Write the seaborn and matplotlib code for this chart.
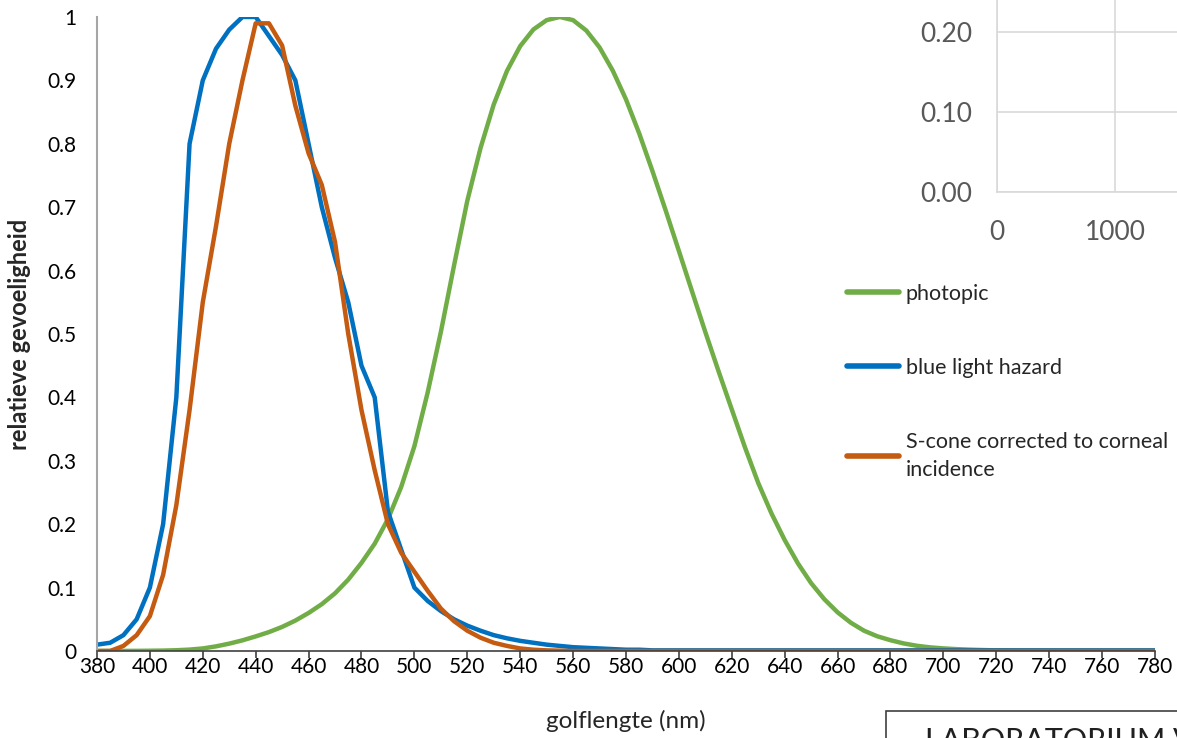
import matplotlib
matplotlib.use("Agg")
import matplotlib.pyplot as plt
import matplotlib.ticker as mticker
import pandas as pd
import seaborn as sns

# --------------------- DATA ---------------------
wavelength = [380, 385, 390, 395, 400, 405, 410, 415, 420, 425, 430, 435, 440, 445, 450, 455,
              460, 465, 470, 475, 480, 485, 490, 495, 500, 505, 510, 515, 520, 525, 530, 535,
              540, 545, 550, 555, 560, 565, 570, 575, 580, 585, 590, 595, 600, 605, 610, 615,
              620, 625, 630, 635, 640, 645, 650, 655, 660, 665, 670, 675, 680, 685, 690, 695,
              700, 705, 710, 715, 720, 725, 730, 735, 740, 745, 750, 755, 760, 765, 770, 775, 780]

photopic = [0.00004, 0.00006, 0.00012, 0.00022, 0.0004, 0.00064, 0.0012, 0.0022, 0.004, 0.0073,
            0.0116, 0.0168, 0.023, 0.0298, 0.038, 0.048, 0.06, 0.0739, 0.091, 0.1126, 0.139,
            0.1693, 0.208, 0.2586, 0.323, 0.4073, 0.503, 0.6082, 0.71, 0.7932, 0.862, 0.9149,
            0.954, 0.9803, 0.995, 1.0, 0.995, 0.9786, 0.952, 0.9154, 0.87, 0.8163, 0.757, 0.6949,
            0.631, 0.5668, 0.503, 0.4412, 0.381, 0.321, 0.265, 0.217, 0.175, 0.1382, 0.107,
            0.0816, 0.061, 0.0446, 0.032, 0.0232, 0.017, 0.0119, 0.0082, 0.0057, 0.0041, 0.0029,
            0.0021, 0.0015, 0.001, 0.0007, 0.0005, 0.0004, 0.0002, 0.0002, 0.0001, 0.0001,
            0.00006, 0.00004, 0.00003, 0.00002, 0.00002]

blue_hazard = [0.01, 0.013, 0.025, 0.05, 0.1, 0.2, 0.4, 0.8, 0.9, 0.95, 0.98, 1.0, 1.0, 0.97,
               0.94, 0.9, 0.8, 0.7, 0.62, 0.55, 0.45, 0.4, 0.22, 0.16, 0.1, 0.079, 0.063, 0.05,
               0.04, 0.032, 0.025, 0.02, 0.016, 0.013, 0.01, 0.008, 0.006, 0.005, 0.004, 0.003,
               0.002, 0.002, 0.001, 0.001, 0.001, 0.001, 0.001, 0.001, 0.001, 0.001, 0.001, 0.001,
               0.001, 0.001, 0.001, 0.001, 0.001, 0.001, 0.001, 0.001, 0.001, 0.001, 0.001, 0.001,
               0.001, 0.001, 0.001, 0.001, 0.001, 0.001, 0.001, 0.001, 0.001, 0.001, 0.001, 0.001,
               0.001, 0.001, 0.001, 0.001, 0.001]

s_cone = [0.0, 0.0, 0.008, 0.025, 0.055, 0.12, 0.23, 0.38, 0.55, 0.67, 0.8, 0.9, 0.99, 0.99,
          0.955, 0.86, 0.785, 0.735, 0.645, 0.5, 0.38, 0.285, 0.2, 0.155, 0.125, 0.095, 0.067,
          0.047, 0.032, 0.021, 0.013, 0.008, 0.004, 0.002, 0.001, 0.0005, 0.0, 0.0, 0.0, 0.0,
          0.0, 0.0, 0.0, 0.0, 0.0, 0.0, 0.0, 0.0, 0.0, 0.0, 0.0, 0.0, 0.0, 0.0, 0.0, 0.0, 0.0,
          0.0, 0.0, 0.0, 0.0, 0.0, 0.0, 0.0, 0.0, 0.0, 0.0, 0.0, 0.0, 0.0, 0.0, 0.0, 0.0, 0.0,
          0.0, 0.0, 0.0, 0.0, 0.0, 0.0, 0.0]

series_names = ['photopic', 'blue light hazard', 'S-cone corrected to corneal\nincidence']
series_colors = ['#70AD47', '#0070C0', '#C55A11']

x_ticks = [380, 400, 420, 440, 460, 480, 500, 520, 540, 560, 580, 600, 620, 640, 660, 680,
           700, 720, 740, 760, 780]
y_ticks = [0, 0.1, 0.2, 0.3, 0.4, 0.5, 0.6, 0.7, 0.8, 0.9, 1.0]

inset_x_ticks = [0, 1000, 2000]
inset_y_ticks = [0.0, 0.1, 0.2, 0.3]

# --------------------- STYLE ---------------------
sns.set_theme(style='white')
plt.rcParams['font.family'] = ['Lato', 'DejaVu Sans']

df = pd.DataFrame({
    'golflengte': wavelength * 3,
    'waarde': photopic + blue_hazard + s_cone,
    'serie': [series_names[0]] * len(wavelength) + [series_names[1]] * len(wavelength)
             + [series_names[2]] * len(wavelength),
})

fig = plt.figure(figsize=(11.77, 7.38), dpi=100)
ax = fig.add_axes([0.0824, 0.1179, 0.8989, 0.8591])

# --------------------- GRAFIEK ---------------------
sns.lineplot(data=df, x='golflengte', y='waarde', hue='serie', hue_order=series_names,
             palette=series_colors, linewidth=3.2, ax=ax, sort=False,
             solid_joinstyle='round', solid_capstyle='round')

ax.set_xlim(380, 780)
ax.set_ylim(0, 1)
ax.set_xticks(x_ticks)
ax.set_yticks(y_ticks)
ax.yaxis.set_major_formatter(mticker.FuncFormatter(lambda v, p: f'{v:g}'))
ax.tick_params(axis='x', bottom=True, length=5, width=1.2, color='#404040',
               labelsize=15, pad=-1, labelcolor='black')
ax.tick_params(axis='y', left=False, labelsize=15, pad=9, labelcolor='black')

for side in ['top', 'right']:
    ax.spines[side].set_visible(False)
ax.spines['left'].set_color('#A6A6A6')
ax.spines['left'].set_linewidth(1.5)
ax.spines['bottom'].set_color('#404040')
ax.spines['bottom'].set_linewidth(1.2)

ax.set_xlabel('golflengte (nm)', fontsize=17.5, labelpad=24)
ax.set_ylabel('relatieve gevoeligheid', fontsize=17, fontweight='bold')
ax.yaxis.set_label_coords(-0.062, 0.5)

leg = ax.legend(loc='upper left', bbox_to_anchor=(0.712, 0.627), bbox_transform=fig.transFigure,
                frameon=False, fontsize=15.5, handlelength=2.45, handletextpad=0.3,
                labelspacing=2.5, borderaxespad=0)
for line in leg.get_lines():
    line.set_linewidth(4)
    line.set_solid_capstyle('round')
for t in leg.get_texts():
    t.set_linespacing(1.55)

# --------------------- INSET (AFGESNEDEN) ---------------------
ins = fig.add_axes([0.8471, 0.7398, 0.2005, 0.3252])
ins.set_xlim(0, 2000)
ins.set_ylim(0, 0.3)
ins.set_xticks(inset_x_ticks)
ins.set_yticks(inset_y_ticks)
ins.yaxis.set_major_formatter(mticker.FormatStrFormatter('%.2f'))
ins.grid(True, color='#D9D9D9', linewidth=1.2)
ins.tick_params(axis='both', length=0, labelsize=19, labelcolor='#595959')
ins.tick_params(axis='y', pad=18)
ins.tick_params(axis='x', pad=20)
for side in ['top', 'right']:
    ins.spines[side].set_visible(False)
for side in ['left', 'bottom']:
    ins.spines[side].set_color('#D9D9D9')
    ins.spines[side].set_linewidth(1.2)

# --------------------- LOGO KADER ---------------------
fig.patches.append(plt.Rectangle((886 / 1177, -0.05), 0.3, (738 - 711) / 738 + 0.05,
                                 transform=fig.transFigure, fill=False,
                                 edgecolor='#404040', linewidth=1.2))
fig.text(925 / 1177, 11 / 738, 'LABORATORIUM V', fontsize=22, va='top', ha='left',
         color='#202020')

plt.savefig('out.png', dpi=100)
plt.close()
